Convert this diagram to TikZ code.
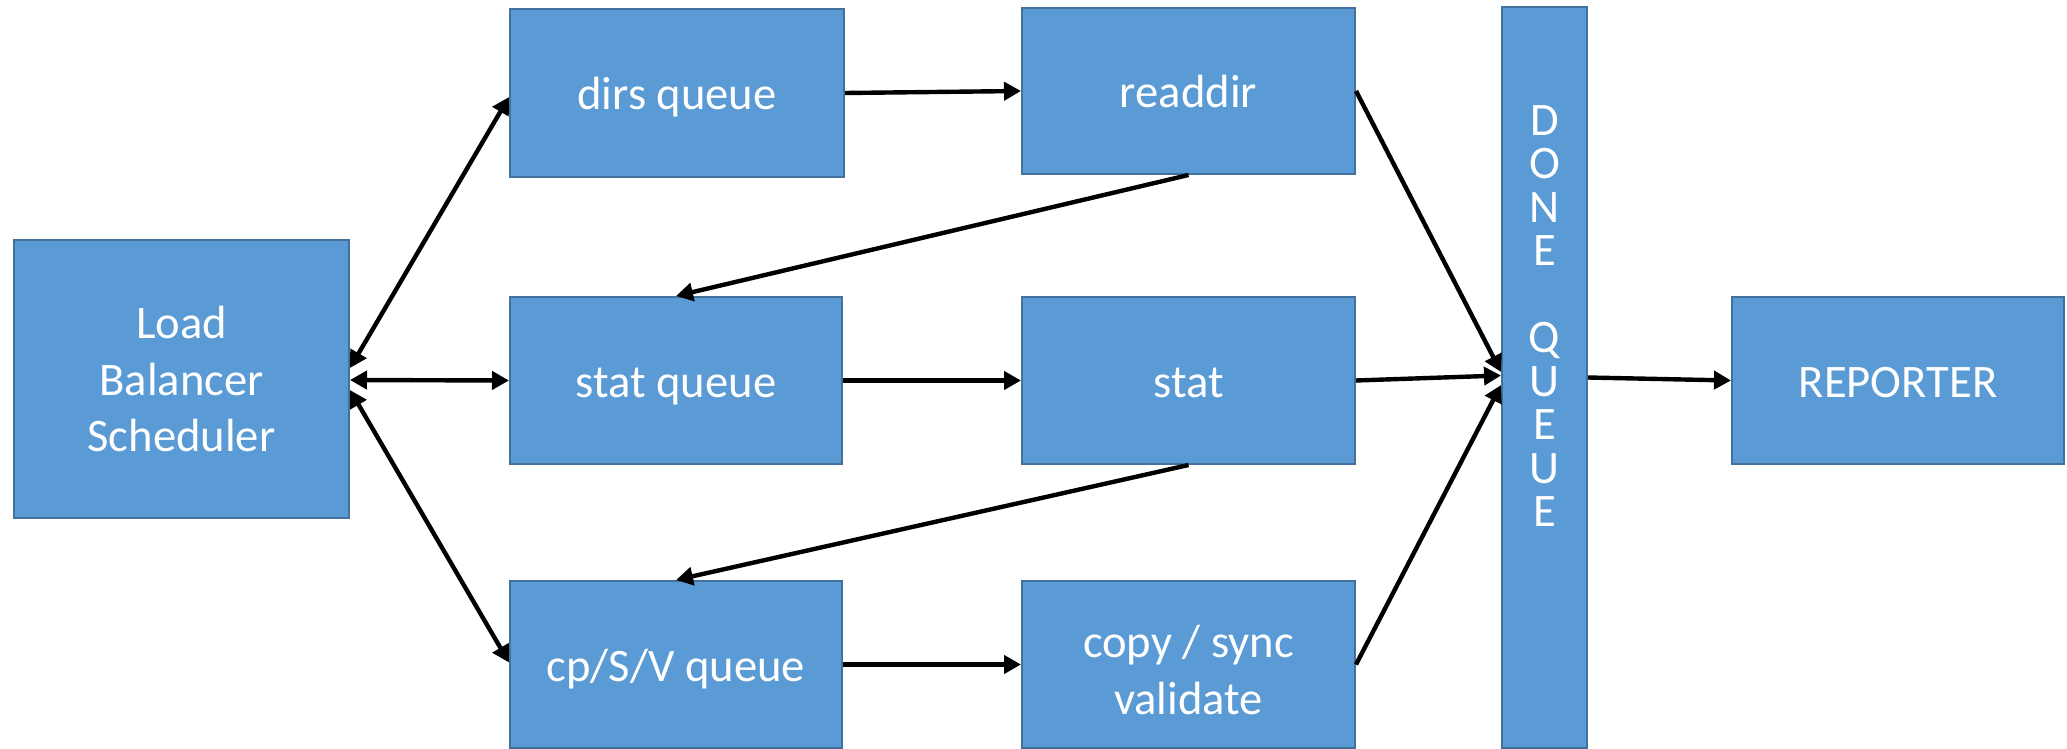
\documentclass[tikz,border=0pt]{standalone}
\usepackage{fontspec}
\setmainfont{Carlito}
\usetikzlibrary{arrows.meta,calc}
\definecolor{boxfill}{HTML}{5B9BD5}
\definecolor{boxline}{HTML}{41719C}
\begin{document}
\begin{tikzpicture}[x=0.5pt,y=-0.5pt,
  procbox/.style 2 args={draw=boxline, line width=1pt, fill=boxfill, text=white,
    font=\fontsize{23.3}{28.4}\selectfont, align=center, inner sep=0pt,
    minimum width=#1, minimum height=#2},
  oneline/.style={text height=20pt, text depth=3pt},
  tiparrow/.tip={Triangle[length=8.5pt,width=9pt]},
  arr/.style={line width=2.2pt, -tiparrow},
  biarr/.style={line width=2.2pt, tiparrow-tiparrow}]
\useasboundingbox (0,0) rectangle (2067,749);

% process blocks
\node[procbox={167.5pt}{139pt}] (lb) at (181.5,379) {Load\\Balancer\\Scheduler};
\node[procbox={167pt}{84pt}, oneline] (dirs) at (677,93) {dirs queue};
\node[procbox={166.5pt}{83pt}, oneline] (readdir) at (1188.5,91) {readdir};
\node[procbox={166pt}{83.5pt}, oneline] (statq) at (676,380.5) {stat queue};
\node[procbox={166.5pt}{83.5pt}, oneline] (stat) at (1188.5,380.5) {stat};
\node[procbox={166pt}{83.5pt}, oneline] (cpq) at (676,664.5) {cp/S/V queue};
\node[procbox={166.5pt}{83.5pt}, text height=49.9pt, text depth=0pt] (copy) at (1188.5,664.5) {copy / sync\\validate};
\node[procbox={42.5pt}{370.5pt}] (done) at (1544.5,377.5) {};
\node[text=white, font=\fontsize{23.3}{21.75}\selectfont, align=center, inner sep=0pt, anchor=north]
  (donetext) at (1544.5,105) {D\\O\\N\\E\\[21.75pt]Q\\U\\E\\U\\E};
\node[procbox={166pt}{83.5pt}, oneline] (reporter) at (1898,380.5) {REPORTER};

% scheduler links
\draw[biarr] ([yshift=5.5pt]lb.east) -- ([yshift=-2pt]dirs.west);
\draw[biarr] ([yshift=-0.5pt]lb.east) -- (statq.west);
\draw[biarr] ([yshift=-5.5pt]lb.east) -- ([yshift=1pt]cpq.west);

% pipeline flow
\draw[arr] (dirs.east) -- (readdir.west);
\draw[arr] (readdir.south) -- (statq.north);
\draw[arr] (statq.east) -- (stat.west);
\draw[arr] (stat.south) -- (cpq.north);
\draw[arr] (cpq.east) -- (copy.west);

% results into the done queue
\draw[arr] (readdir.east) -- ([yshift=2.75pt]done.west);
\draw[arr] (stat.east) -- ([yshift=1pt]done.west);
\draw[arr] (copy.east) -- ([yshift=-3.75pt]done.west);
\draw[arr] (done.east) -- (reporter.west);
\end{tikzpicture}
\end{document}
